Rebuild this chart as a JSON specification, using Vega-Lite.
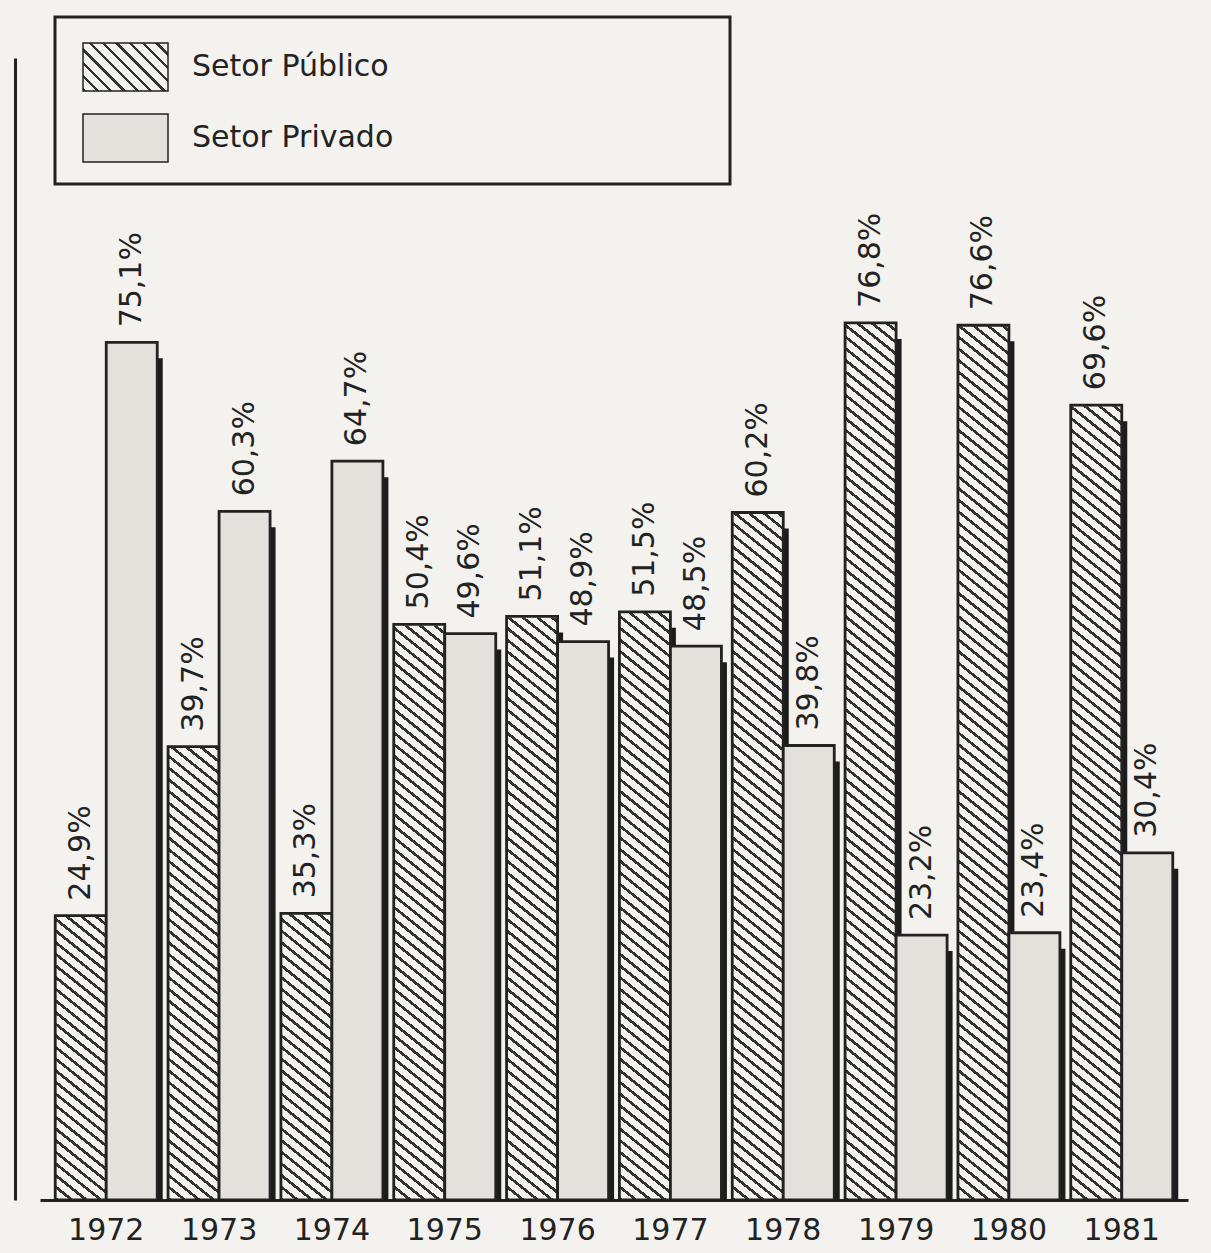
{
"$schema": "https://vega.github.io/schema/vega-lite/v6.json",
"width": 1148,
"height": 1142,
"autosize": "none",
"padding": {"left": 40, "top": 58, "right": 23, "bottom": 53},
"background": "#f3f2ee",
"data": {"values": [
{"year": "1972", "series": "Setor Público", "value": 24.9, "label": "24,9%"},
{"year": "1972", "series": "Setor Privado", "value": 75.1, "label": "75,1%"},
{"year": "1973", "series": "Setor Público", "value": 39.7, "label": "39,7%"},
{"year": "1973", "series": "Setor Privado", "value": 60.3, "label": "60,3%"},
{"year": "1974", "series": "Setor Público", "value": 25.1, "label": "35,3%"},
{"year": "1974", "series": "Setor Privado", "value": 64.7, "label": "64,7%"},
{"year": "1975", "series": "Setor Público", "value": 50.4, "label": "50,4%"},
{"year": "1975", "series": "Setor Privado", "value": 49.6, "label": "49,6%"},
{"year": "1976", "series": "Setor Público", "value": 51.1, "label": "51,1%"},
{"year": "1976", "series": "Setor Privado", "value": 48.9, "label": "48,9%"},
{"year": "1977", "series": "Setor Público", "value": 51.5, "label": "51,5%"},
{"year": "1977", "series": "Setor Privado", "value": 48.5, "label": "48,5%"},
{"year": "1978", "series": "Setor Público", "value": 60.2, "label": "60,2%"},
{"year": "1978", "series": "Setor Privado", "value": 39.8, "label": "39,8%"},
{"year": "1979", "series": "Setor Público", "value": 76.8, "label": "76,8%"},
{"year": "1979", "series": "Setor Privado", "value": 23.2, "label": "23,2%"},
{"year": "1980", "series": "Setor Público", "value": 76.6, "label": "76,6%"},
{"year": "1980", "series": "Setor Privado", "value": 23.4, "label": "23,4%"},
{"year": "1981", "series": "Setor Público", "value": 69.6, "label": "69,6%"},
{"year": "1981", "series": "Setor Privado", "value": 30.4, "label": "30,4%"}
]},
"encoding": {
  "x": {"field": "year", "type": "nominal", "title": null, "scale": {"paddingInner": 0.096, "paddingOuter": 0.135}}
},
"resolve": {"scale": {"xOffset": "independent"}},
"layer": [
{
  "mark": {"type": "bar", "color": "#1c1c1c", "yOffset": 16},
  "encoding": {
    "xOffset": {"field": "series", "type": "nominal", "scale": {"domain": ["Setor Público", "Setor Privado"], "range": [5.5, 107.5], "paddingInner": 0, "paddingOuter": 0}},
    "y": {"field": "value", "type": "quantitative", "stack": null, "title": null, "scale": {"domain": [0, 100], "nice": false}}
  }
},
{
  "layer": [
  {
    "transform": [{"filter": "datum.series === 'Setor Público'"}],
    "mark": {"type": "bar", "strokeWidth": 0, "fill": {"gradient": "linear", "x1": 0, "y1": 1, "x2": 0.047801, "y2": -0.043611, "stops": [
{"offset":0,"color":"#333"},{"offset":0.00375,"color":"#333"},{"offset":0.00375,"color":"#f3f2ee"},{"offset":0.0125,"color":"#f3f2ee"},
{"offset":0.0125,"color":"#333"},{"offset":0.01625,"color":"#333"},{"offset":0.01625,"color":"#f3f2ee"},{"offset":0.025,"color":"#f3f2ee"},
{"offset":0.025,"color":"#333"},{"offset":0.02875,"color":"#333"},{"offset":0.02875,"color":"#f3f2ee"},{"offset":0.0375,"color":"#f3f2ee"},
{"offset":0.0375,"color":"#333"},{"offset":0.04125,"color":"#333"},{"offset":0.04125,"color":"#f3f2ee"},{"offset":0.05,"color":"#f3f2ee"},
{"offset":0.05,"color":"#333"},{"offset":0.05375,"color":"#333"},{"offset":0.05375,"color":"#f3f2ee"},{"offset":0.0625,"color":"#f3f2ee"},
{"offset":0.0625,"color":"#333"},{"offset":0.06625,"color":"#333"},{"offset":0.06625,"color":"#f3f2ee"},{"offset":0.075,"color":"#f3f2ee"},
{"offset":0.075,"color":"#333"},{"offset":0.07875,"color":"#333"},{"offset":0.07875,"color":"#f3f2ee"},{"offset":0.0875,"color":"#f3f2ee"},
{"offset":0.0875,"color":"#333"},{"offset":0.09125,"color":"#333"},{"offset":0.09125,"color":"#f3f2ee"},{"offset":0.1,"color":"#f3f2ee"},
{"offset":0.1,"color":"#333"},{"offset":0.10375,"color":"#333"},{"offset":0.10375,"color":"#f3f2ee"},{"offset":0.1125,"color":"#f3f2ee"},
{"offset":0.1125,"color":"#333"},{"offset":0.11625,"color":"#333"},{"offset":0.11625,"color":"#f3f2ee"},{"offset":0.125,"color":"#f3f2ee"},
{"offset":0.125,"color":"#333"},{"offset":0.12875,"color":"#333"},{"offset":0.12875,"color":"#f3f2ee"},{"offset":0.1375,"color":"#f3f2ee"},
{"offset":0.1375,"color":"#333"},{"offset":0.14125,"color":"#333"},{"offset":0.14125,"color":"#f3f2ee"},{"offset":0.15,"color":"#f3f2ee"},
{"offset":0.15,"color":"#333"},{"offset":0.15375,"color":"#333"},{"offset":0.15375,"color":"#f3f2ee"},{"offset":0.1625,"color":"#f3f2ee"},
{"offset":0.1625,"color":"#333"},{"offset":0.16625,"color":"#333"},{"offset":0.16625,"color":"#f3f2ee"},{"offset":0.175,"color":"#f3f2ee"},
{"offset":0.175,"color":"#333"},{"offset":0.17875,"color":"#333"},{"offset":0.17875,"color":"#f3f2ee"},{"offset":0.1875,"color":"#f3f2ee"},
{"offset":0.1875,"color":"#333"},{"offset":0.19125,"color":"#333"},{"offset":0.19125,"color":"#f3f2ee"},{"offset":0.2,"color":"#f3f2ee"},
{"offset":0.2,"color":"#333"},{"offset":0.20375,"color":"#333"},{"offset":0.20375,"color":"#f3f2ee"},{"offset":0.2125,"color":"#f3f2ee"},
{"offset":0.2125,"color":"#333"},{"offset":0.21625,"color":"#333"},{"offset":0.21625,"color":"#f3f2ee"},{"offset":0.225,"color":"#f3f2ee"},
{"offset":0.225,"color":"#333"},{"offset":0.22875,"color":"#333"},{"offset":0.22875,"color":"#f3f2ee"},{"offset":0.2375,"color":"#f3f2ee"},
{"offset":0.2375,"color":"#333"},{"offset":0.24125,"color":"#333"},{"offset":0.24125,"color":"#f3f2ee"},{"offset":0.25,"color":"#f3f2ee"},
{"offset":0.25,"color":"#333"},{"offset":0.25375,"color":"#333"},{"offset":0.25375,"color":"#f3f2ee"},{"offset":0.2625,"color":"#f3f2ee"},
{"offset":0.2625,"color":"#333"},{"offset":0.26625,"color":"#333"},{"offset":0.26625,"color":"#f3f2ee"},{"offset":0.275,"color":"#f3f2ee"},
{"offset":0.275,"color":"#333"},{"offset":0.27875,"color":"#333"},{"offset":0.27875,"color":"#f3f2ee"},{"offset":0.2875,"color":"#f3f2ee"},
{"offset":0.2875,"color":"#333"},{"offset":0.29125,"color":"#333"},{"offset":0.29125,"color":"#f3f2ee"},{"offset":0.3,"color":"#f3f2ee"},
{"offset":0.3,"color":"#333"},{"offset":0.30375,"color":"#333"},{"offset":0.30375,"color":"#f3f2ee"},{"offset":0.3125,"color":"#f3f2ee"},
{"offset":0.3125,"color":"#333"},{"offset":0.31625,"color":"#333"},{"offset":0.31625,"color":"#f3f2ee"},{"offset":0.325,"color":"#f3f2ee"},
{"offset":0.325,"color":"#333"},{"offset":0.32875,"color":"#333"},{"offset":0.32875,"color":"#f3f2ee"},{"offset":0.3375,"color":"#f3f2ee"},
{"offset":0.3375,"color":"#333"},{"offset":0.34125,"color":"#333"},{"offset":0.34125,"color":"#f3f2ee"},{"offset":0.35,"color":"#f3f2ee"},
{"offset":0.35,"color":"#333"},{"offset":0.35375,"color":"#333"},{"offset":0.35375,"color":"#f3f2ee"},{"offset":0.3625,"color":"#f3f2ee"},
{"offset":0.3625,"color":"#333"},{"offset":0.36625,"color":"#333"},{"offset":0.36625,"color":"#f3f2ee"},{"offset":0.375,"color":"#f3f2ee"},
{"offset":0.375,"color":"#333"},{"offset":0.37875,"color":"#333"},{"offset":0.37875,"color":"#f3f2ee"},{"offset":0.3875,"color":"#f3f2ee"},
{"offset":0.3875,"color":"#333"},{"offset":0.39125,"color":"#333"},{"offset":0.39125,"color":"#f3f2ee"},{"offset":0.4,"color":"#f3f2ee"},
{"offset":0.4,"color":"#333"},{"offset":0.40375,"color":"#333"},{"offset":0.40375,"color":"#f3f2ee"},{"offset":0.4125,"color":"#f3f2ee"},
{"offset":0.4125,"color":"#333"},{"offset":0.41625,"color":"#333"},{"offset":0.41625,"color":"#f3f2ee"},{"offset":0.425,"color":"#f3f2ee"},
{"offset":0.425,"color":"#333"},{"offset":0.42875,"color":"#333"},{"offset":0.42875,"color":"#f3f2ee"},{"offset":0.4375,"color":"#f3f2ee"},
{"offset":0.4375,"color":"#333"},{"offset":0.44125,"color":"#333"},{"offset":0.44125,"color":"#f3f2ee"},{"offset":0.45,"color":"#f3f2ee"},
{"offset":0.45,"color":"#333"},{"offset":0.45375,"color":"#333"},{"offset":0.45375,"color":"#f3f2ee"},{"offset":0.4625,"color":"#f3f2ee"},
{"offset":0.4625,"color":"#333"},{"offset":0.46625,"color":"#333"},{"offset":0.46625,"color":"#f3f2ee"},{"offset":0.475,"color":"#f3f2ee"},
{"offset":0.475,"color":"#333"},{"offset":0.47875,"color":"#333"},{"offset":0.47875,"color":"#f3f2ee"},{"offset":0.4875,"color":"#f3f2ee"},
{"offset":0.4875,"color":"#333"},{"offset":0.49125,"color":"#333"},{"offset":0.49125,"color":"#f3f2ee"},{"offset":0.5,"color":"#f3f2ee"},
{"offset":0.5,"color":"#333"},{"offset":0.50375,"color":"#333"},{"offset":0.50375,"color":"#f3f2ee"},{"offset":0.5125,"color":"#f3f2ee"},
{"offset":0.5125,"color":"#333"},{"offset":0.51625,"color":"#333"},{"offset":0.51625,"color":"#f3f2ee"},{"offset":0.525,"color":"#f3f2ee"},
{"offset":0.525,"color":"#333"},{"offset":0.52875,"color":"#333"},{"offset":0.52875,"color":"#f3f2ee"},{"offset":0.5375,"color":"#f3f2ee"},
{"offset":0.5375,"color":"#333"},{"offset":0.54125,"color":"#333"},{"offset":0.54125,"color":"#f3f2ee"},{"offset":0.55,"color":"#f3f2ee"},
{"offset":0.55,"color":"#333"},{"offset":0.55375,"color":"#333"},{"offset":0.55375,"color":"#f3f2ee"},{"offset":0.5625,"color":"#f3f2ee"},
{"offset":0.5625,"color":"#333"},{"offset":0.56625,"color":"#333"},{"offset":0.56625,"color":"#f3f2ee"},{"offset":0.575,"color":"#f3f2ee"},
{"offset":0.575,"color":"#333"},{"offset":0.57875,"color":"#333"},{"offset":0.57875,"color":"#f3f2ee"},{"offset":0.5875,"color":"#f3f2ee"},
{"offset":0.5875,"color":"#333"},{"offset":0.59125,"color":"#333"},{"offset":0.59125,"color":"#f3f2ee"},{"offset":0.6,"color":"#f3f2ee"},
{"offset":0.6,"color":"#333"},{"offset":0.60375,"color":"#333"},{"offset":0.60375,"color":"#f3f2ee"},{"offset":0.6125,"color":"#f3f2ee"},
{"offset":0.6125,"color":"#333"},{"offset":0.61625,"color":"#333"},{"offset":0.61625,"color":"#f3f2ee"},{"offset":0.625,"color":"#f3f2ee"},
{"offset":0.625,"color":"#333"},{"offset":0.62875,"color":"#333"},{"offset":0.62875,"color":"#f3f2ee"},{"offset":0.6375,"color":"#f3f2ee"},
{"offset":0.6375,"color":"#333"},{"offset":0.64125,"color":"#333"},{"offset":0.64125,"color":"#f3f2ee"},{"offset":0.65,"color":"#f3f2ee"},
{"offset":0.65,"color":"#333"},{"offset":0.65375,"color":"#333"},{"offset":0.65375,"color":"#f3f2ee"},{"offset":0.6625,"color":"#f3f2ee"},
{"offset":0.6625,"color":"#333"},{"offset":0.66625,"color":"#333"},{"offset":0.66625,"color":"#f3f2ee"},{"offset":0.675,"color":"#f3f2ee"},
{"offset":0.675,"color":"#333"},{"offset":0.67875,"color":"#333"},{"offset":0.67875,"color":"#f3f2ee"},{"offset":0.6875,"color":"#f3f2ee"},
{"offset":0.6875,"color":"#333"},{"offset":0.69125,"color":"#333"},{"offset":0.69125,"color":"#f3f2ee"},{"offset":0.7,"color":"#f3f2ee"},
{"offset":0.7,"color":"#333"},{"offset":0.70375,"color":"#333"},{"offset":0.70375,"color":"#f3f2ee"},{"offset":0.7125,"color":"#f3f2ee"},
{"offset":0.7125,"color":"#333"},{"offset":0.71625,"color":"#333"},{"offset":0.71625,"color":"#f3f2ee"},{"offset":0.725,"color":"#f3f2ee"},
{"offset":0.725,"color":"#333"},{"offset":0.72875,"color":"#333"},{"offset":0.72875,"color":"#f3f2ee"},{"offset":0.7375,"color":"#f3f2ee"},
{"offset":0.7375,"color":"#333"},{"offset":0.74125,"color":"#333"},{"offset":0.74125,"color":"#f3f2ee"},{"offset":0.75,"color":"#f3f2ee"},
{"offset":0.75,"color":"#333"},{"offset":0.75375,"color":"#333"},{"offset":0.75375,"color":"#f3f2ee"},{"offset":0.7625,"color":"#f3f2ee"},
{"offset":0.7625,"color":"#333"},{"offset":0.76625,"color":"#333"},{"offset":0.76625,"color":"#f3f2ee"},{"offset":0.775,"color":"#f3f2ee"},
{"offset":0.775,"color":"#333"},{"offset":0.77875,"color":"#333"},{"offset":0.77875,"color":"#f3f2ee"},{"offset":0.7875,"color":"#f3f2ee"},
{"offset":0.7875,"color":"#333"},{"offset":0.79125,"color":"#333"},{"offset":0.79125,"color":"#f3f2ee"},{"offset":0.8,"color":"#f3f2ee"},
{"offset":0.8,"color":"#333"},{"offset":0.80375,"color":"#333"},{"offset":0.80375,"color":"#f3f2ee"},{"offset":0.8125,"color":"#f3f2ee"},
{"offset":0.8125,"color":"#333"},{"offset":0.81625,"color":"#333"},{"offset":0.81625,"color":"#f3f2ee"},{"offset":0.825,"color":"#f3f2ee"},
{"offset":0.825,"color":"#333"},{"offset":0.82875,"color":"#333"},{"offset":0.82875,"color":"#f3f2ee"},{"offset":0.8375,"color":"#f3f2ee"},
{"offset":0.8375,"color":"#333"},{"offset":0.84125,"color":"#333"},{"offset":0.84125,"color":"#f3f2ee"},{"offset":0.85,"color":"#f3f2ee"},
{"offset":0.85,"color":"#333"},{"offset":0.85375,"color":"#333"},{"offset":0.85375,"color":"#f3f2ee"},{"offset":0.8625,"color":"#f3f2ee"},
{"offset":0.8625,"color":"#333"},{"offset":0.86625,"color":"#333"},{"offset":0.86625,"color":"#f3f2ee"},{"offset":0.875,"color":"#f3f2ee"},
{"offset":0.875,"color":"#333"},{"offset":0.87875,"color":"#333"},{"offset":0.87875,"color":"#f3f2ee"},{"offset":0.8875,"color":"#f3f2ee"},
{"offset":0.8875,"color":"#333"},{"offset":0.89125,"color":"#333"},{"offset":0.89125,"color":"#f3f2ee"},{"offset":0.9,"color":"#f3f2ee"},
{"offset":0.9,"color":"#333"},{"offset":0.90375,"color":"#333"},{"offset":0.90375,"color":"#f3f2ee"},{"offset":0.9125,"color":"#f3f2ee"},
{"offset":0.9125,"color":"#333"},{"offset":0.91625,"color":"#333"},{"offset":0.91625,"color":"#f3f2ee"},{"offset":0.925,"color":"#f3f2ee"},
{"offset":0.925,"color":"#333"},{"offset":0.92875,"color":"#333"},{"offset":0.92875,"color":"#f3f2ee"},{"offset":0.9375,"color":"#f3f2ee"},
{"offset":0.9375,"color":"#333"},{"offset":0.94125,"color":"#333"},{"offset":0.94125,"color":"#f3f2ee"},{"offset":0.95,"color":"#f3f2ee"},
{"offset":0.95,"color":"#333"},{"offset":0.95375,"color":"#333"},{"offset":0.95375,"color":"#f3f2ee"},{"offset":0.9625,"color":"#f3f2ee"},
{"offset":0.9625,"color":"#333"},{"offset":0.96625,"color":"#333"},{"offset":0.96625,"color":"#f3f2ee"},{"offset":0.975,"color":"#f3f2ee"},
{"offset":0.975,"color":"#333"},{"offset":0.97875,"color":"#333"},{"offset":0.97875,"color":"#f3f2ee"},{"offset":0.9875,"color":"#f3f2ee"},
{"offset":0.9875,"color":"#333"},{"offset":0.99125,"color":"#333"},{"offset":0.99125,"color":"#f3f2ee"},{"offset":1,"color":"#f3f2ee"}
    ]}},
    "encoding": {
      "xOffset": {"field": "series", "type": "nominal", "scale": {"domain": ["Setor Público", "Setor Privado"], "paddingInner": 0, "paddingOuter": 0}},
      "y": {"datum": 78, "type": "quantitative", "title": null},
      "y2": {"datum": 0}
    }
  },
  {
    "transform": [{"filter": "datum.series === 'Setor Público'"}],
    "mark": {"type": "bar", "fill": "#f3f2ee", "stroke": "#f3f2ee", "strokeWidth": 2},
    "encoding": {
      "xOffset": {"field": "series", "type": "nominal"},
      "y": {"field": "value", "type": "quantitative", "title": null},
      "y2": {"datum": 78}
    }
  },
  {
    "mark": {"type": "bar", "stroke": "#222", "strokeWidth": 2.8},
    "encoding": {
      "xOffset": {"field": "series", "type": "nominal"},
      "y": {"field": "value", "type": "quantitative", "stack": null, "title": null},
      "fill": {"field": "series", "type": "nominal",
        "scale": {"domain": ["Setor Público", "Setor Privado"], "range": [
          {"expr": "{gradient: 'linear', x1: 0, y1: 1, x2: 1.18637, y2: 0.33005, stops: [{offset: 0, color: '#333'}, {offset: 0.025, color: '#333'}, {offset: 0.025, color: '#f3f2ee'}, {offset: 0.1, color: '#f3f2ee'}, {offset: 0.1, color: '#333'}, {offset: 0.125, color: '#333'}, {offset: 0.125, color: '#f3f2ee'}, {offset: 0.2, color: '#f3f2ee'}, {offset: 0.2, color: '#333'}, {offset: 0.225, color: '#333'}, {offset: 0.225, color: '#f3f2ee'}, {offset: 0.3, color: '#f3f2ee'}, {offset: 0.3, color: '#333'}, {offset: 0.325, color: '#333'}, {offset: 0.325, color: '#f3f2ee'}, {offset: 0.4, color: '#f3f2ee'}, {offset: 0.4, color: '#333'}, {offset: 0.425, color: '#333'}, {offset: 0.425, color: '#f3f2ee'}, {offset: 0.5, color: '#f3f2ee'}, {offset: 0.5, color: '#333'}, {offset: 0.525, color: '#333'}, {offset: 0.525, color: '#f3f2ee'}, {offset: 0.6, color: '#f3f2ee'}, {offset: 0.6, color: '#333'}, {offset: 0.625, color: '#333'}, {offset: 0.625, color: '#f3f2ee'}, {offset: 0.7, color: '#f3f2ee'}, {offset: 0.7, color: '#333'}, {offset: 0.725, color: '#333'}, {offset: 0.725, color: '#f3f2ee'}, {offset: 0.8, color: '#f3f2ee'}, {offset: 0.8, color: '#333'}, {offset: 0.825, color: '#333'}, {offset: 0.825, color: '#f3f2ee'}, {offset: 0.9, color: '#f3f2ee'}, {offset: 0.9, color: '#333'}, {offset: 0.925, color: '#333'}, {offset: 0.925, color: '#f3f2ee'}, {offset: 1, color: '#f3f2ee'}]}"},
          "#e3e1dc"]},
        "legend": {
          "orient": "none", "legendX": 15, "legendY": -41,
          "title": " ", "titleOrient": "right", "titlePadding": 330, "titleFontSize": 156, "titleFont": "DejaVu Sans", "titleBaseline": "top", "titleAnchor": "start",
          "padding": 6.5,
          "symbolType": "M-1,-0.5647H1V0.5647H-1Z", "symbolSize": 7225, "symbolOffset": 20.5,
          "labelOffset": 23, "labelFont": "DejaVu Sans", "labelFontSize": 30, "labelColor": "#222", "labelLimit": 1000,
          "rowPadding": -14,
          "strokeColor": "#222", "fillColor": "#f3f2ee"
        }
      },
      "fillOpacity": {"condition": {"test": "datum.series === 'Setor Público'", "value": 0}, "value": 1}
    }
  },
  {
    "mark": {"type": "text", "angle": 270, "align": "left", "baseline": "middle", "dx": 15, "font": "DejaVu Sans", "fontSize": 30, "color": "#222"},
    "encoding": {
      "xOffset": {"field": "series", "type": "nominal"},
      "y": {"field": "value", "type": "quantitative", "title": null},
      "text": {"field": "label"}
    }
  }
  ]
}
],
"config": {
  "view": {"stroke": null},
  "legend": {"strokeWidth": 3},
  "axisX": {"labelAngle": 0, "ticks": false, "grid": false, "domainColor": "#222", "domainWidth": 3, "labelFont": "DejaVu Sans", "labelFontSize": 30, "labelColor": "#222", "labelPadding": 15},
  "axisY": {"labels": false, "ticks": false, "grid": false, "domainColor": "#222", "domainWidth": 3, "offset": 25}
}
}
